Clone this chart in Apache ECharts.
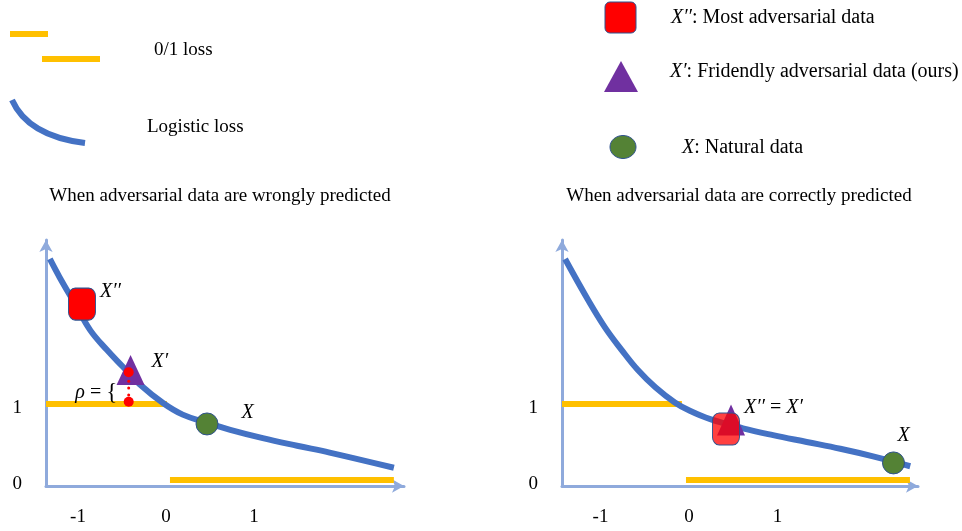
<!DOCTYPE html>
<html>
<head>
<meta charset="utf-8">
<title>Friendly adversarial data</title>
<script src="https://cdn.jsdelivr.net/npm/echarts@6/dist/echarts.min.js"></script>
<style>
  html, body { margin: 0; padding: 0; background: #ffffff; }
  #chart { width: 962px; height: 531px; }
</style>
</head>
<body>
<div id="chart"></div>
<script>
// Tick labels shared by both panels
const xTickValues = [-1, 0, 1];
const yTickValues = [0, 1];

// Panel titles
const panelTitles = [
  'When adversarial data are wrongly predicted',
  'When adversarial data are correctly predicted'
];

// Left panel: adversarial data wrongly predicted
const leftLogistic = [
  [-1.32, 2.91], [-1.21, 2.67], [-1.03, 2.31], [-0.86, 1.97], [-0.67, 1.71],
  [-0.49, 1.49], [-0.30, 1.26], [-0.03, 1.01], [0.19, 0.86], [0.47, 0.75],
  [0.73, 0.66], [1.10, 0.55], [1.49, 0.45], [1.86, 0.36], [2.59, 0.16]
];
const leftZeroOneHigh = [[-1.364, 1], [0.01, 1]];
const leftZeroOneLow = [[0.045, 0], [2.59, 0]];
const leftMost = [[-0.955, 2.316]];      // X''
const leftFriendly = [[-0.403, 1.447]];  // X'
const leftNatural = [[0.466, 0.737]];    // X
const leftRho = [[-0.424, 1.417], [-0.424, 1.30], [-0.424, 1.21], [-0.424, 1.12], [-0.424, 1.03]];

// Right panel: adversarial data correctly predicted
const rightLogistic = [
  [-1.40, 2.91], [-1.14, 2.37], [-0.95, 2.01], [-0.76, 1.71], [-0.58, 1.45],
  [-0.38, 1.22], [-0.16, 1.02], [0.01, 0.91], [0.24, 0.80], [0.61, 0.68],
  [0.95, 0.59], [1.33, 0.50], [1.71, 0.41], [2.08, 0.31], [2.50, 0.18]
];
const rightZeroOneHigh = [[-1.435, 1], [-0.08, 1]];
const rightZeroOneLow = [[-0.034, 0], [2.497, 0]];
const rightMost = [[0.418, 0.671]];      // X'' (coincides with X')
const rightFriendly = [[0.475, 0.789]];  // X'
const rightNatural = [[2.311, 0.224]];   // X

const SERIF = '"Liberation Serif", "Times New Roman", serif';
const AXIS_BLUE = '#8FAADC';
const LOSS_BLUE = '#4472C4';
const ORANGE = '#FFC000';
const RED = '#FF0000';
const PURPLE = '#7030A0';
const GREEN = '#548235';
const EDGE = '#2F528F';

const mathRich = {
  i: { fontFamily: SERIF, fontStyle: 'italic', fontSize: 20, color: '#000' },
  n: { fontFamily: SERIF, fontSize: 20, color: '#000' },
  b: { fontFamily: SERIF, fontSize: 23, color: '#000' }
};

function xAxisFor(gridIndex, min, max) {
  return {
    type: 'value', gridIndex, min, max,
    axisLine: {
      onZero: false,
      symbol: ['none', 'arrow'], symbolSize: [10, 12],
      lineStyle: { color: AXIS_BLUE, width: 3 }
    },
    axisTick: { show: false },
    splitLine: { show: false },
    axisLabel: {
      customValues: xTickValues,
      color: '#000', fontFamily: SERIF, fontSize: 19, margin: 22
    }
  };
}

function yAxisFor(gridIndex) {
  return {
    type: 'value', gridIndex, min: -0.08, max: 3.16,
    axisLine: {
      onZero: false,
      symbol: ['none', 'arrow'], symbolSize: [10, 12],
      lineStyle: { color: AXIS_BLUE, width: 3 }
    },
    axisTick: { show: false },
    splitLine: { show: false },
    axisLabel: {
      customValues: yTickValues,
      color: '#000', fontFamily: SERIF, fontSize: 19, margin: 24,
      verticalAlign: 'top', lineHeight: 8
    }
  };
}

function stepLine(axis, data) {
  return {
    type: 'line', xAxisIndex: axis, yAxisIndex: axis, data,
    showSymbol: false, silent: true, z: 2,
    lineStyle: { color: ORANGE, width: 6, cap: 'butt' }
  };
}

function lossLine(axis, data) {
  return {
    type: 'line', xAxisIndex: axis, yAxisIndex: axis, data,
    smooth: 0.4, showSymbol: false, silent: true, z: 2,
    lineStyle: { color: LOSS_BLUE, width: 6, cap: 'butt' }
  };
}

// markers sit above the loss curves
function marker(axis, data, opts) {
  return Object.assign({
    type: 'scatter', xAxisIndex: axis, yAxisIndex: axis, data, silent: true, z: 4
  }, opts);
}

const legendRich = {
  i: { font: 'italic 20px ' + SERIF, fill: '#000' },
  n: { font: '20px ' + SERIF, fill: '#000' }
};

const chart = echarts.init(document.getElementById('chart'), null, { renderer: 'canvas' });

chart.setOption({
  backgroundColor: '#ffffff',
  animation: false,
  grid: [
    { left: 46, right: 558, top: 240, bottom: 45 },
    { left: 562, right: 44, top: 240, bottom: 45 }
  ],
  xAxis: [xAxisFor(0, -1.364, 2.705), xAxisFor(1, -1.435, 2.588)],
  yAxis: [yAxisFor(0), yAxisFor(1)],
  series: [
    stepLine(0, leftZeroOneHigh),
    stepLine(0, leftZeroOneLow),
    stepLine(1, rightZeroOneHigh),
    stepLine(1, rightZeroOneLow),
    lossLine(0, leftLogistic),
    lossLine(1, rightLogistic),

    // natural data X
    marker(0, leftNatural, {
      symbol: 'circle', symbolSize: 22,
      itemStyle: { color: GREEN, borderColor: EDGE, borderWidth: 1, opacity: 1 },
      label: { show: true, position: 'right', distance: 23, offset: [0, -11],
               formatter: '{i|X}', rich: mathRich }
    }),
    marker(1, rightNatural, {
      symbol: 'circle', symbolSize: 22,
      itemStyle: { color: GREEN, borderColor: EDGE, borderWidth: 1, opacity: 1 },
      label: { show: true, position: 'top', distance: 6, offset: [10, 0],
               formatter: '{i|X}', rich: mathRich }
    }),

    // friendly adversarial data X'
    marker(0, leftFriendly, {
      symbol: 'triangle', symbolSize: [28, 30], z: 5,
      itemStyle: { color: PURPLE, opacity: 1 },
      label: { show: true, position: 'right', distance: 7, offset: [0, -8],
               formatter: '{i|X′}', rich: mathRich }
    }),
    marker(1, rightFriendly, {
      symbol: 'triangle', symbolSize: [28, 31], z: 5,
      itemStyle: { color: PURPLE, opacity: 1 }
    }),

    // most adversarial data X''
    marker(0, leftMost, {
      symbol: 'roundRect', symbolSize: [27, 32], z: 6,
      itemStyle: { color: RED, borderColor: EDGE, borderWidth: 1, opacity: 1 },
      label: { show: true, position: 'right', distance: 4, offset: [0, -12],
               formatter: '{i|X′′}', rich: mathRich }
    }),
    marker(1, rightMost, {
      symbol: 'roundRect', symbolSize: [27, 32], z: 6,
      itemStyle: { color: 'rgba(255,0,0,0.75)', borderColor: EDGE, borderWidth: 1, opacity: 1 },
      label: { show: true, position: 'right', distance: 4, offset: [0, -21],
               formatter: '{i|X′′}{n| = }{i|X′}', rich: mathRich }
    }),

    // rho: loss gap between X' and the 0/1 loss level
    marker(0, leftRho.map((p, k) => {
      const big = (k === 0 || k === leftRho.length - 1);
      const item = { value: p, symbolSize: big ? 10 : 3 };
      if (k === 3) {
        item.label = {
          show: true, position: 'left', distance: 10, offset: [0, -2],
          formatter: '{i|ρ}{n| = }{b|{}', rich: mathRich
        };
      }
      return item;
    }), {
      symbol: 'circle', z: 7,
      itemStyle: { color: RED, opacity: 1 }
    })
  ],
  graphic: [
    // panel titles
    { type: 'text', x: 220, y: 196,
      style: { text: panelTitles[0], font: '19px ' + SERIF, fill: '#000', align: 'center', verticalAlign: 'middle' } },
    { type: 'text', x: 739, y: 196,
      style: { text: panelTitles[1], font: '19px ' + SERIF, fill: '#000', align: 'center', verticalAlign: 'middle' } },

    // loss legend
    { type: 'line', shape: { x1: 10, y1: 34, x2: 48, y2: 34 }, style: { stroke: ORANGE, lineWidth: 6 } },
    { type: 'line', shape: { x1: 42, y1: 59, x2: 100, y2: 59 }, style: { stroke: ORANGE, lineWidth: 6 } },
    { type: 'text', x: 154, y: 50,
      style: { text: '0/1 loss', font: '19px ' + SERIF, fill: '#000', verticalAlign: 'middle' } },
    { type: 'bezierCurve', shape: { x1: 12, y1: 100, cpx1: 28, cpy1: 136, x2: 85, y2: 143 },
      style: { stroke: LOSS_BLUE, lineWidth: 6, fill: null } },
    { type: 'text', x: 147, y: 127,
      style: { text: 'Logistic loss', font: '19px ' + SERIF, fill: '#000', verticalAlign: 'middle' } },

    // data legend
    { type: 'rect', shape: { x: 605, y: 2, width: 31, height: 31, r: 5 },
      style: { fill: RED, stroke: EDGE, lineWidth: 1 } },
    { type: 'text', x: 671, y: 18,
      style: { text: '{i|X′′}{n|: Most adversarial data}', verticalAlign: 'middle', rich: legendRich } },
    { type: 'polygon', shape: { points: [[621, 61], [638, 92], [604, 92]] },
      style: { fill: PURPLE } },
    { type: 'text', x: 670, y: 72,
      style: { text: '{i|X′}{n|: Fridendly adversarial data (ours)}', verticalAlign: 'middle', rich: legendRich } },
    { type: 'ellipse', shape: { cx: 623, cy: 147, rx: 13, ry: 11.5 },
      style: { fill: GREEN, stroke: EDGE, lineWidth: 1 } },
    { type: 'text', x: 682, y: 148,
      style: { text: '{i|X}{n|: Natural data}', verticalAlign: 'middle', rich: legendRich } }
  ]
});
</script>
</body>
</html>
